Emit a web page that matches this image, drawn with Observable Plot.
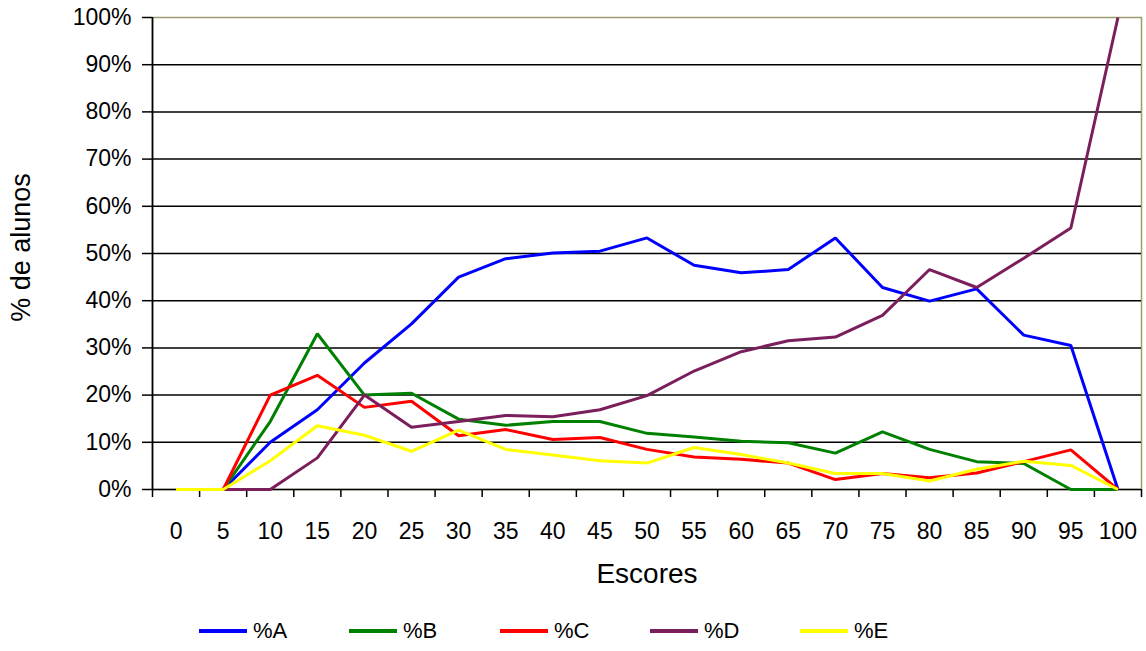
<!DOCTYPE html>
<html>
<head>
<meta charset="utf-8">
<script src="https://cdn.jsdelivr.net/npm/d3@7"></script>
<script src="https://cdn.jsdelivr.net/npm/@observablehq/plot@0.6"></script>
<style>
  html, body { margin: 0; padding: 0; background: #fff; }
  body { width: 1146px; height: 651px; overflow: hidden; font-family: "Liberation Sans", Arial, sans-serif; }
  #legend { position: relative; width: 1146px; height: 41px; }
  .item { position: absolute; top: 0; height: 41px; display: flex; align-items: center; font-size: 22px; color: #000; }
  .sw { width: 48px; height: 4px; margin-right: 6px; }
</style>
</head>
<body>
<div id="chart"></div>
<div id="legend"></div>
<script>
const scores = [0,5,10,15,20,25,30,35,40,45,50,55,60,65,70,75,80,85,90,95,100];
const pctA = [0,0,10,16.9,26.8,35.1,45,48.9,50.1,50.5,53.3,47.5,45.9,46.6,53.3,42.8,39.9,42.5,32.7,30.5,0];
const pctB = [0,0,14.4,33,20,20.4,14.9,13.6,14.4,14.4,11.9,11.1,10.2,9.9,7.7,12.2,8.5,5.9,5.5,0,0];
const pctC = [0,0,20,24.2,17.4,18.7,11.4,12.7,10.6,11.0,8.5,6.9,6.4,5.6,2.1,3.4,2.5,3.5,5.9,8.4,0];
const pctD = [0,0,0,6.7,20,13.2,14.4,15.7,15.4,16.9,19.9,25.1,29.2,31.5,32.3,36.9,46.6,42.8,49,55.4,100];
const pctE = [0,0,6.1,13.5,11.5,8.1,12.6,8.5,7.3,6.1,5.6,8.9,7.4,5.6,3.4,3.4,1.8,4.3,6.0,5.1,0];
const seriesNames = ["%A","%B","%C","%D","%E"];
const seriesColors = ["#0000ff","#008000","#ff0000","#7a1f5c","#ffff00"];
const yTicks = [0,10,20,30,40,50,60,70,80,90,100];
const xLabel = "Escores";
const yLabel = "% de alunos";

const seriesValues = [pctA, pctB, pctC, pctD, pctE];
const rows = [];
seriesNames.forEach((name, si) => {
  scores.forEach((s, i) => rows.push({series: name, score: s, value: seriesValues[si][i]}));
});
const bounds = scores.map(s => s - 2.5).concat([102.5]);

const chart = Plot.plot({
  width: 1146,
  height: 610,
  marginLeft: 152,
  marginRight: 5,
  marginTop: 17,
  marginBottom: 121,
  style: {fontFamily: "'Liberation Sans', Arial, sans-serif", color: "#000", background: "#fff"},
  x: {type: "linear", domain: [-2.5, 102.5]},
  y: {type: "linear", domain: [0, 100]},
  color: {domain: seriesNames, range: seriesColors},
  marks: [
    Plot.frame({stroke: "#9c9c6c", strokeWidth: 1.5}),
    Plot.ruleY(yTicks.filter(d => d > 0 && d < 100), {stroke: "#000", strokeWidth: 1.5}),
    Plot.axisY({ticks: yTicks, tickSize: 10, tickPadding: 11, fontSize: 23, tickFormat: d => d + "%", label: null, stroke: "#000", strokeWidth: 1.5}),
    Plot.axisX({ticks: bounds, tickSize: 8, tickFormat: () => "", label: null, stroke: "#000", strokeWidth: 1.5}),
    Plot.axisX({ticks: scores, tickSize: 0, tickPadding: 33, fontSize: 23, tickFormat: d => String(d), label: null}),
    Plot.ruleX([-2.5], {stroke: "#000", strokeWidth: 1.7}),
    Plot.ruleY([0], {stroke: "#000", strokeWidth: 1.7}),
    Plot.line(rows, {x: "score", y: "value", z: "series", stroke: "series", strokeWidth: 3, strokeLinejoin: "miter", strokeLinecap: "butt"}),
    Plot.text([xLabel], {frameAnchor: "bottom", dy: 93, fontSize: 28, fill: "#000"}),
    Plot.text([yLabel], {frameAnchor: "left", textAnchor: "middle", dx: -131, dy: -6, rotate: -90, fontSize: 27, fill: "#000"})
  ]
});
document.getElementById("chart").appendChild(chart);

const legend = document.getElementById("legend");
const legendLeft = [199, 349, 500, 650, 800];
seriesNames.forEach((name, i) => {
  const item = document.createElement("div");
  item.className = "item";
  item.style.left = legendLeft[i] + "px";
  const sw = document.createElement("div");
  sw.className = "sw";
  sw.style.background = seriesColors[i];
  const t = document.createElement("span");
  t.textContent = name;
  item.appendChild(sw);
  item.appendChild(t);
  legend.appendChild(item);
});
</script>
</body>
</html>
